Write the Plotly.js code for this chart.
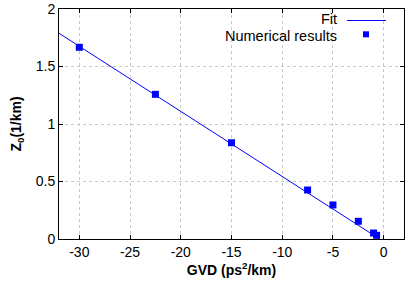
<!DOCTYPE html>
<html>
<head>
<meta charset="utf-8">
<script src="https://cdn.plot.ly/plotly-3.0.1.min.js"></script>
<style>html,body{margin:0;padding:0;background:#fff;}#chart{width:415px;height:291px;}</style>
</head>
<body>
<div id="chart"></div>
<script>
const gvd = [-30, -22.5, -15, -7.5, -5, -2.5, -1, -0.7];
const z0 = [1.667, 1.258, 0.837, 0.426, 0.296, 0.154, 0.052, 0.032];
const fitX = [-32, -0.4];
const fitY = [1.789, 0];
const xTicks = [-30, -25, -20, -15, -10, -5, 0];
const yTicks = [0, 0.5, 1, 1.5, 2];

const font = {family: 'Liberation Sans, Arial, sans-serif', size: 14, color: '#000'};
const legFont = {family: 'Liberation Sans, Arial, sans-serif', size: 14.5, color: '#000'};

const traces = [
  {x: fitX, y: fitY, mode: 'lines', name: 'Fit', line: {color: '#0000ff', width: 1}, showlegend: false},
  {x: gvd, y: z0, mode: 'markers', name: 'Numerical results', marker: {symbol: 'square', color: '#0000ff', size: 7}, showlegend: false}
];

const axisCommon = {
  showline: true, linecolor: '#000', linewidth: 1, mirror: 'ticks',
  ticks: 'inside', ticklen: 4, tickcolor: '#000',
  showgrid: true, gridcolor: '#c8c8c8', griddash: 'dot', gridwidth: 1,
  zeroline: false, tickfont: font
};

const yFit = 19.3, yNum = 35.5;

const layout = {
  width: 415, height: 291,
  margin: {l: 59, r: 11, t: 9, b: 52},
  paper_bgcolor: '#fff', plot_bgcolor: '#fff',
  font: font,
  xaxis: Object.assign({}, axisCommon, {
    range: [-32, 2], tickvals: xTicks, ticktext: xTicks.map(String),
    title: {text: '<b>GVD (ps<sup>2</sup>/km)</b>', font: font, standoff: 4}
  }),
  yaxis: Object.assign({}, axisCommon, {
    range: [0, 2], tickvals: yTicks, ticktext: yTicks.map(String),
    title: {text: '<b>Z<sub>0</sub>(1/km)</b>', font: font, standoff: 10}
  }),
  annotations: [
    {xref: 'paper', yref: 'paper', x: (338 - 59) / 345, y: (239 - yFit) / 230, xanchor: 'right', yanchor: 'middle', borderpad: 0, text: 'Fit', showarrow: false, font: legFont},
    {xref: 'paper', yref: 'paper', x: (338 - 59) / 345, y: (239 - yNum) / 230, xanchor: 'right', yanchor: 'middle', borderpad: 0, text: 'Numerical results', showarrow: false, font: legFont}
  ],
  shapes: [
    {type: 'line', xref: 'paper', yref: 'paper', x0: (347 - 59) / 345, x1: (386 - 59) / 345, y0: (239 - 20.5) / 230, y1: (239 - 20.5) / 230, line: {color: '#0000ff', width: 1}},
    {type: 'rect', xref: 'paper', yref: 'paper', x0: (363 - 59) / 345, x1: (369 - 59) / 345, y0: (239 - 37.3) / 230, y1: (239 - 31.3) / 230, fillcolor: '#0000ff', line: {width: 0}}
  ],
  showlegend: false
};

Plotly.newPlot('chart', traces, layout, {displayModeBar: false, staticPlot: true});
</script>
</body>
</html>
